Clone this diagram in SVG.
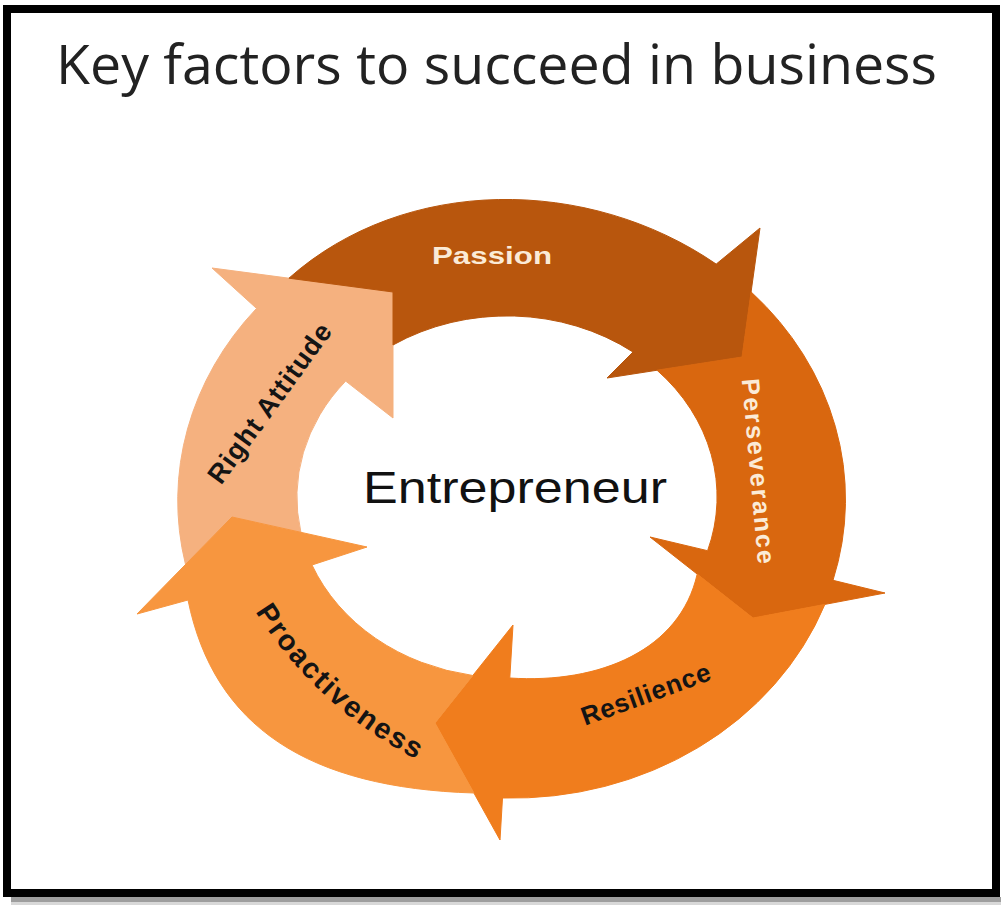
<svg xmlns="http://www.w3.org/2000/svg" xmlns:xlink="http://www.w3.org/1999/xlink" width="1001" height="907" viewBox="0 0 1001 907">
  <style>
    .band { stroke-width: 1; stroke-linejoin: round; }
    .ra { fill: #F5B17F; stroke: #F5B17F; }
    .passion { fill: #B8560D; stroke: #B8560D; }
    .persev { fill: #D9670F; stroke: #D9670F; }
    .resil { fill: #F07D1D; stroke: #F07D1D; }
    .proact { fill: #F7963F; stroke: #F7963F; }
    .lbl { font-family: "Liberation Sans", Arial, sans-serif; font-weight: bold; }
    .dark { fill: #141414; }
    .light { fill: #FBEBD7; }
  </style>
  <defs>
    <path id="proact-arc" d="M235,551 A401,401 0 0 0 480,775"/>
  </defs>

  <!-- page and frame -->
  <rect x="0" y="0" width="1001" height="907" fill="#ffffff"/>
  <rect x="11" y="897" width="990" height="5" fill="#9e9e9e"/>
  <rect x="11" y="902" width="990" height="3" fill="#d8d8d8"/>
  <rect x="7" y="9" width="989" height="884" fill="#ffffff" stroke="#000000" stroke-width="8"/>

  <text id="title" x="56" y="84" font-family="'Open Sans', 'Noto Sans', sans-serif" font-size="54" fill="#222222" textLength="881" lengthAdjust="spacingAndGlyphs">Key factors to succeed in business</text>

  <!-- cycle segments: outer edge ellipse c(512,500) r(334,298), inner edge ellipse c(507,497) r(210,181);
       each tail is notched so it stops at the head of the segment before it -->
  <g id="right-attitude">
    <path class="band ra" d="M185.5,564.5 A334,298 0 0 1 256.5,308.4 L212,268 L393,292 L393,418 L345.7,381.1 A210,181 0 0 0 300.9,532.3 L232,517 Z"/>
    <text class="lbl dark" font-size="27" letter-spacing="1" text-anchor="middle" dominant-baseline="central" transform="translate(270,403) rotate(-54)">Right Attitude</text>
  </g>

  <g id="passion">
    <path class="band passion" d="M288.9,278.2 C405,175 588.6,176.3 716.2,264.1 L760,228 L742,357 L607,378 L633,352 A210,181 0 0 0 393,345 L393,292 Z"/>
    <text class="lbl light" x="492" y="264" font-size="24" text-anchor="middle" textLength="120" lengthAdjust="spacingAndGlyphs">Passion</text>
  </g>

  <g id="perseverance">
    <path class="band persev" d="M751.1,291.9 A334,298 0 0 1 833,580.3 L885,593 L753,618 L650,537 L707.6,550.7 A210,181 0 0 0 657,370.2 L742,357 Z"/>
    <text class="lbl light" font-size="25" letter-spacing="2.1" text-anchor="middle" dominant-baseline="central" transform="translate(759,472) rotate(85)">Perseverance</text>
  </g>

  <g id="resilience">
    <path class="band resil" d="M824.9,604.4 A334,298 0 0 1 502.5,798 L500,840 L435,723 L513,625 L509.8,678 C600,684 680,650 697.2,574.1 L753,618 Z"/>
    <text class="lbl dark" font-size="26" letter-spacing="0.8" text-anchor="middle" dominant-baseline="central" transform="translate(646,694) rotate(-20)">Resilience</text>
  </g>

  <g id="proactiveness">
    <path class="band proact" d="M473.9,793 C308.9,788 214,727.4 188,600 L137,614 L232,517 L367,547 L312,565 A210,181 0 0 0 472.8,675.5 L435,723 Z"/>
    <text class="lbl dark" font-size="29" letter-spacing="1.6" dominant-baseline="central"><textPath xlink:href="#proact-arc" href="#proact-arc" startOffset="50%" text-anchor="middle">Proactiveness</textPath></text>
  </g>

  <g id="entrepreneur">
    <text x="515" y="503" font-family="'Liberation Sans', Arial, sans-serif" font-size="44" fill="#111111" text-anchor="middle" textLength="304" lengthAdjust="spacingAndGlyphs">Entrepreneur</text>
  </g>
</svg>
